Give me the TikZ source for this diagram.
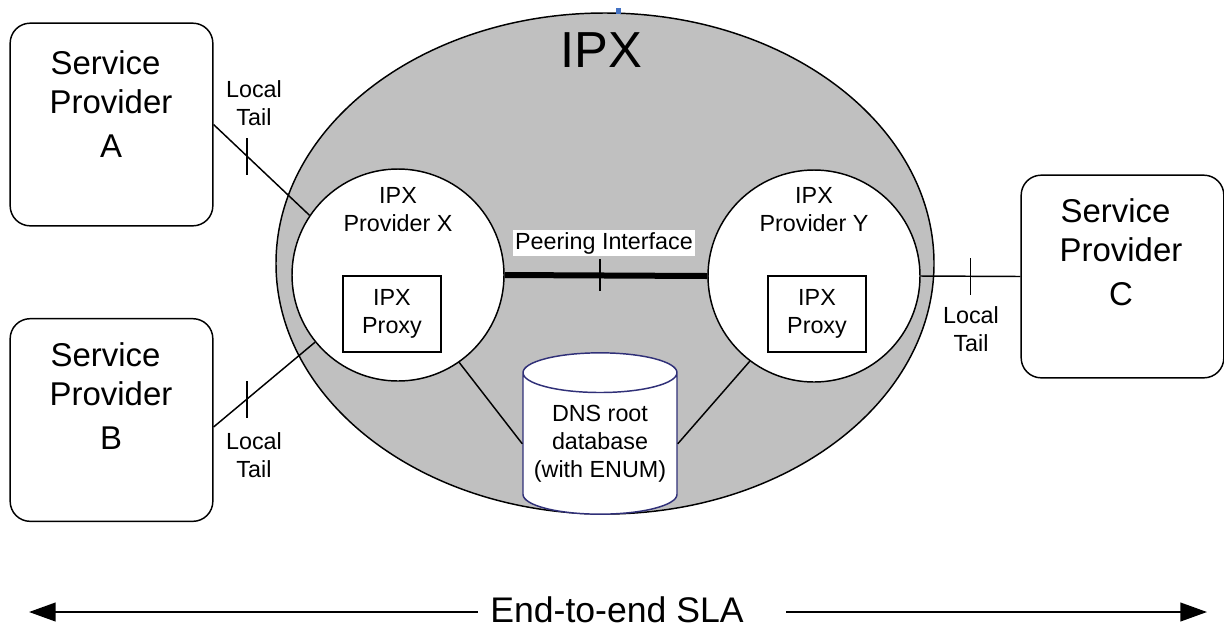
\documentclass[tikz,border=0pt]{standalone}
\usepackage{fontspec}
\setmainfont{Liberation Sans}
\usetikzlibrary{shapes.geometric,arrows.meta,calc}

\definecolor{ipxgray}{RGB}{192,192,192}
\definecolor{dbblue}{RGB}{48,48,120}
\definecolor{markblue}{RGB}{68,114,196}

\newcommand{\smallfont}{\fontsize{17.5}{21}\selectfont}

\tikzset{every picture/.style={line width=1.1pt}}
\tikzset{
  spbox/.style={draw, rounded corners=15pt, minimum width=152pt, minimum height=152pt, inner sep=0pt},
  sptext/.style={align=center, font=\fontsize{24.7}{29}\selectfont},
  provcircle/.style={draw, circle, fill=white, minimum size=159pt, inner sep=0pt},
  provtext/.style={align=center, font=\smallfont},
  proxybox/.style={draw, fill=white, minimum width=73.5pt, minimum height=57pt, inner sep=0pt, align=center, font=\smallfont},
  tailtext/.style={align=center, font=\smallfont},
  dbcyl/.style={draw=dbblue, fill=white, cylinder, shape border rotate=90, aspect=0.3, minimum width=115.5pt, minimum height=121pt, inner sep=0pt, align=center, font=\smallfont},
  peering/.style={line width=4.5pt},
  slaarrow/.style={line width=1.6pt, -{Triangle[length=20pt,width=14pt]}},
}

\begin{document}
\begin{tikzpicture}[x=0.75pt,y=0.75pt,yscale=-1,xscale=1]
\useasboundingbox (0,0) rectangle (1224,626);

%IPX cloud
\node[draw, ellipse, fill=ipxgray, minimum width=493.5pt, minimum height=375.75pt, inner sep=0pt] (ipx) at (605,263.5) {};
\node[font=\fontsize{38}{44}\selectfont] (ipxtitle) at (601,50) {IPX};
\fill[markblue] (616,8) rectangle (621,14);

%Service providers
\node[spbox] (spA) at (111.5,124.5) {};
\node[sptext] (spAtext) at (111,104) {Service\hphantom{r}\\Provider\\[4pt]A};
\node[spbox] (spB) at (111.5,420) {};
\node[sptext] (spBtext) at (111,396) {Service\hphantom{r}\\Provider\\[4pt]B};
\node[spbox] (spC) at (1122.5,276.5) {};
\node[sptext] (spCtext) at (1121,252) {Service\hphantom{r}\\Provider\\[4pt]C};

%IPX providers
\node[provcircle] (provX) at (398,275) {};
\node[provtext] (provXtext) at (398,210) {IPX\\Provider X};
\node[proxybox] (proxyX) at (392,314) {IPX\\Proxy};
\node[provcircle] (provY) at (814,276) {};
\node[provtext] (provYtext) at (814,210) {IPX\\Provider Y};
\node[proxybox] (proxyY) at (817,314) {IPX\\Proxy};

%DNS root
\node[dbcyl, anchor=shape center] (dns) at (600,433.5) {DNS root\\database\\(with ENUM)};

%Local tails
\draw (spA.east) -- (provX.146.6) coordinate[pos=0.35] (tA);
\draw (tA) ++(0,-18) -- ++(0,37);
\draw ($(spB.east)+(0,7)$) -- (provX.219.3) coordinate[pos=0.33] (tB);
\draw (tB) ++(0,-18) -- ++(0,37);
\draw (provY.east) -- (spC.west) coordinate[pos=0.5] (tC);
\draw (tC) ++(0,-18) -- ++(0,37);
\node[tailtext] (tailA) at (254,103) {Local\\Tail};
\node[tailtext] (tailB) at (254,455) {Local\\Tail};
\node[tailtext] (tailC) at (971,329) {Local\\Tail};

%Peering
\draw[peering] (provX.east) -- (provY.west) coordinate[pos=0.47] (tP);
\draw (tP) ++(0,-16) -- ++(0,32);
\node[fill=white, inner sep=1.5pt, font=\smallfont] (peerlabel) at (604,243) {Peering Interface};

%DNS links
\draw (provX.-55) -- (dns.180);
\draw (provY.-127.5) -- (dns.0);

%SLA
\node[inner sep=0pt, font=\fontsize{26.7}{32}\selectfont] (sla) at (617,610) {End-to-end SLA};
\coordinate (slaL) at (29,612);
\coordinate (slaR) at (1207,612);
\draw[slaarrow] ($(sla.west |- slaL)+(-12,0)$) -- (slaL);
\draw[slaarrow] ($(sla.east |- slaR)+(42,0)$) -- (slaR);

\end{tikzpicture}
\end{document}
